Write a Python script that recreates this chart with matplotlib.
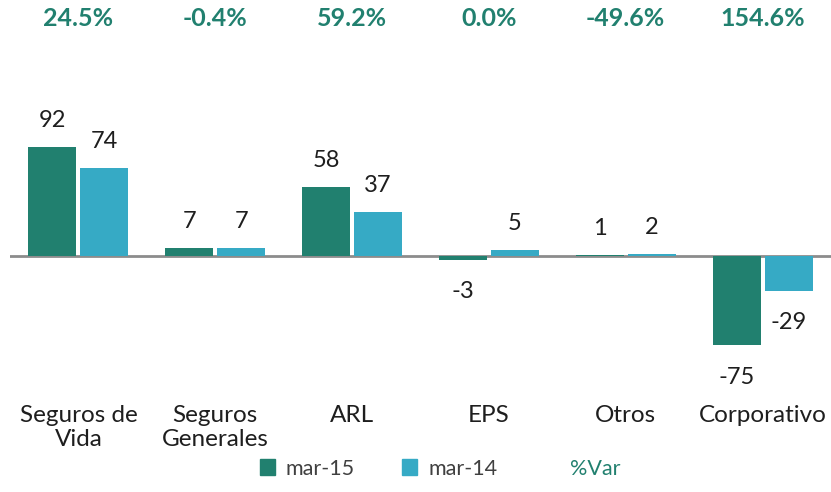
import numpy as np
import matplotlib.pyplot as plt
from matplotlib.patches import Patch
from matplotlib.lines import Line2D
from matplotlib.transforms import blended_transform_factory

plt.rcParams['font.family'] = ['Lato', 'DejaVu Sans']

categories = ['Seguros de\nVida', 'Seguros\nGenerales', 'ARL', 'EPS', 'Otros', 'Corporativo']
mar15 = [92, 7, 58, -3, 1, -75]
mar14 = [74, 7, 37, 5, 2, -29]
var_pct = ['24.5%', '-0.4%', '59.2%', '0.0%', '-49.6%', '154.6%']

dark = '#21806F'
light = '#36AAC5'
txt = '#1E1E1E'

fig = plt.figure(figsize=(8.31, 4.92), dpi=100)
ax = fig.add_axes([0.012, 0.2256, 0.988, 0.508])

x = np.arange(len(categories))
w = 0.35
off = 0.19
b1 = ax.bar(x - off, mar15, w, color=dark)
b2 = ax.bar(x + off, mar14, w, color=light)

ax.axhline(0, color='#8C8C8C', lw=2, zorder=0)

# data labels above / below bars
for bars, vals in ((b1, mar15), (b2, mar14)):
    for b, v in zip(bars, vals):
        cx = b.get_x() + b.get_width() / 2
        dy = 19 if v >= 0 else -23
        ax.annotate(str(v), (cx, v), xytext=(0, dy), textcoords='offset points',
                    ha='center', va='center', fontsize=17, color=txt)

# %Var row at the top
tr = blended_transform_factory(ax.transData, fig.transFigure)
for xi, p in zip(x, var_pct):
    ax.text(xi, 0.962, p, transform=tr, ha='center', va='center',
            fontsize=18, fontweight='bold', color=dark)

ax.set_xlim(-0.5, 5.5)
ax.set_ylim(-105, 105)
ax.set_xticks(x)
ax.set_xticklabels(categories, fontsize=17.5, color=txt, linespacing=1.2)
ax.tick_params(axis='x', length=0, pad=17)
ax.set_yticks([])
for s in ax.spines.values():
    s.set_visible(False)

handles = [Patch(color=dark), Patch(color=light), Line2D([], [], lw=0)]
leg = fig.legend(handles, ['mar-15', 'mar-14', '%Var'], loc='lower center',
                 bbox_to_anchor=(0.53, -0.012), ncol=3, frameon=False, fontsize=15.5,
                 handlelength=0.7, handleheight=0.7, handletextpad=0.5, columnspacing=2.2)
for t in leg.get_texts():
    t.set_color('#404040')
leg.get_texts()[2].set_color(dark)

fig.savefig('out.png', dpi=100)
